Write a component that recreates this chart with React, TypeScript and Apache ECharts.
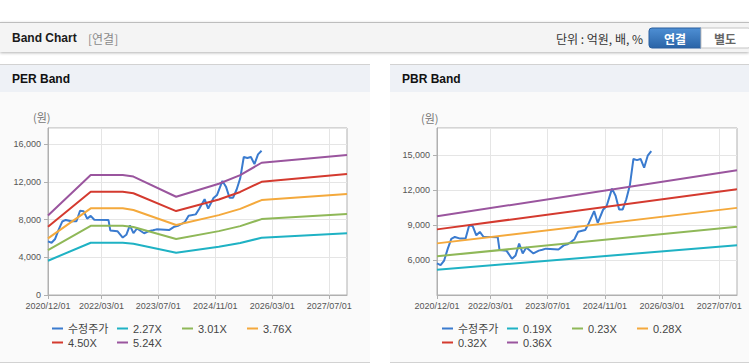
import React, { useEffect, useRef } from 'react';
import * as echarts from 'echarts';

const FONT = "'Liberation Sans', Arial, 'Noto Sans CJK KR', sans-serif";
const KFONT = "'Noto Sans CJK KR', 'Liberation Sans', sans-serif";

// x axis: half-month categories from 2020/12/01 to 2027/12/01
const xTickLabels = ['2020/12/01', '2022/03/01', '2023/07/01', '2024/11/01', '2026/03/01', '2027/07/01'];
const totalMonths = 84;
const categories: string[] = [];
for (let i = 0; i <= totalMonths * 2; i++) {
  const m = Math.floor(i / 2);
  const y = 2020 + Math.floor((11 + m) / 12);
  const mo = ((11 + m) % 12) + 1;
  categories.push(`${y}/${String(mo).padStart(2, '0')}/${i % 2 === 0 ? '01' : '16'}`);
}
const tickSet = new Set(xTickLabels);
const showTick = (idx: number) => tickSet.has(categories[idx]);

// 수정주가 (months since 2020/12)
const priceMonths = [0, 1, 2, 3, 4, 5, 6.5, 8, 9, 10, 11, 12, 13, 17, 17.5, 19.5, 21, 22, 23, 24, 25, 27, 28.5, 29.5, 30.5, 34, 35.5, 36.5, 37.5, 38.5, 39.5, 41.5, 42.5, 44, 45, 46.5, 47.5, 49, 50, 51, 52, 53, 54, 55, 56, 57, 58, 59, 60];
const priceValues = [5700, 5550, 5950, 6950, 7800, 7970, 7830, 7830, 8950, 8900, 8110, 8400, 7990, 7950, 6860, 6780, 6100, 6390, 7400, 6560, 7060, 6560, 6800, 6880, 6970, 6890, 7250, 7340, 7540, 7780, 8420, 8560, 9150, 10180, 9180, 10300, 10620, 12110, 11500, 10330, 10330, 11200, 12390, 14650, 14550, 14650, 13900, 14930, 15310];

// PER band
const perBandMonths = [0, 12, 21, 24, 36, 48, 54, 60, 84];
const per227 = [3640, 5550, 5550, 5450, 4490, 5120, 5520, 6080, 6550];
const per301 = [4770, 7350, 7350, 7220, 5940, 6780, 7310, 8060, 8600];
const per376 = [6010, 9200, 9200, 9020, 7430, 8480, 9140, 10080, 10720];
const per450 = [7250, 10960, 10960, 10800, 8910, 10140, 10940, 12020, 12840];
const per524 = [8450, 12730, 12730, 12570, 10430, 11810, 12730, 14040, 14860];

// PBR band
const pbrBandMonths = [0, 84];
const pbr019 = [5170, 7250];
const pbr023 = [6310, 8850];
const pbr028 = [7420, 10460];
const pbr032 = [8620, 12050];
const pbr036 = [9740, 13680];

const perLegend = ['수정주가', '2.27X', '3.01X', '3.76X', '4.50X', '5.24X'];
const pbrLegend = ['수정주가', '0.19X', '0.23X', '0.28X', '0.32X', '0.36X'];

const BLUE = '#3a7bcf';
const CYAN = '#1fb2c4';
const GREEN = '#8fb858';
const ORANGE = '#f4a93c';
const RED = '#d43a2f';
const PURPLE = '#9a559e';

const toPairs = (months: number[], vals: number[]) => months.map((m, i) => [m * 2, vals[i]]);

function lineSeries(name: string, color: string, data: any[], idx: number) {
  return {
    name,
    type: 'line',
    xAxisIndex: idx,
    yAxisIndex: idx,
    data,
    showSymbol: false,
    symbol: 'none',
    connectNulls: true,
    lineStyle: { width: 2, color },
    itemStyle: { color },
    emphasis: { disabled: true },
  };
}

function xAxis(gridIndex: number) {
  return {
    type: 'category',
    gridIndex,
    data: categories,
    boundaryGap: false,
    axisLine: { show: true, lineStyle: { color: '#b0b0b0' } },
    axisTick: { show: true, interval: showTick, length: 4, lineStyle: { color: '#b0b0b0' } },
    axisLabel: { interval: showTick, fontSize: 9, color: '#555', margin: 6, fontFamily: FONT },
    splitLine: { show: true, interval: showTick, lineStyle: { color: '#e5e5e5' } },
  };
}

function yAxis(gridIndex: number, min: number, max: number, interval: number, hideMin: boolean) {
  return {
    type: 'value',
    gridIndex,
    min,
    max,
    interval,
    axisLine: { show: true, lineStyle: { color: '#b0b0b0' } },
    axisTick: { show: true, length: 4, lineStyle: { color: '#b0b0b0' } },
    axisLabel: { fontSize: 9, color: '#555', margin: 7, fontFamily: FONT, showMaxLabel: false, showMinLabel: !hideMin },
    splitLine: { show: true, lineStyle: { color: '#e5e5e5' } },
  };
}

function legends(names: string[], left0: number) {
  return names.map((n, i) => ({
    data: [n],
    left: left0 + (i % 4) * 65,
    top: i < 4 ? 323 : 337,
    icon: 'rect',
    itemWidth: 11,
    itemHeight: 2,
    itemGap: 5,
    padding: 0,
    selectedMode: false,
    textStyle: { fontSize: 11, color: '#444', fontFamily: FONT },
  }));
}

function panel(x0: number, w: number, title: string, unitX: number, unitY: number) {
  return [
    { type: 'rect', z: -3, shape: { x: x0, y: 64, width: w, height: 299 }, style: { fill: '#fafafa' } },
    { type: 'rect', z: -2, shape: { x: x0, y: 64, width: w, height: 28 }, style: { fill: '#eef1f6' } },
    { type: 'line', z: -1, shape: { x1: x0, y1: 64.5, x2: x0 + w, y2: 64.5 }, style: { stroke: '#d2d2d2', lineWidth: 1 } },
    { type: 'line', z: -1, shape: { x1: x0, y1: 362.5, x2: x0 + w, y2: 362.5 }, style: { stroke: '#d2d2d2', lineWidth: 1 } },
    { type: 'text', x: x0 + 12, y: 79, style: { text: title, fontSize: 12, fontWeight: 'bold', fontFamily: FONT, fill: '#111', align: 'left', verticalAlign: 'middle' } },
    { type: 'text', x: unitX, y: unitY, style: { text: '(원)', fontSize: 11, fontFamily: KFONT, fill: '#777', align: 'left', verticalAlign: 'middle' } },
  ];
}

export default function App() {
  const ref = useRef<HTMLDivElement>(null);
  useEffect(() => {
    if (!ref.current) return;
    const chart = echarts.init(ref.current, undefined, { renderer: 'svg' });
    const option: any = {
      animation: false,
      backgroundColor: '#ffffff',
      graphic: [
        { type: 'rect', z: -1, shape: { x: 0, y: 22, width: 749, height: 30 }, style: { fill: '#f4f4f4', shadowBlur: 3, shadowOffsetY: 1, shadowColor: 'rgba(0,0,0,0.3)' } },
        { type: 'line', shape: { x1: 0, y1: 22.5, x2: 749, y2: 22.5 }, style: { stroke: '#bdbdbd', lineWidth: 1 } },
        { type: 'text', x: 12, y: 38, style: { text: 'Band Chart', fontSize: 12, fontWeight: 'bold', fontFamily: FONT, fill: '#1a1a1a', align: 'left', verticalAlign: 'middle' } },
        { type: 'text', x: 88, y: 38, style: { text: '[연결]', fontSize: 12, fontFamily: KFONT, fill: '#8a8a8a', align: 'left', verticalAlign: 'middle' } },
        { type: 'text', x: 643, y: 38, style: { text: '단위 : 억원, 배, %', fontSize: 12, fontFamily: KFONT, fill: '#333', align: 'right', verticalAlign: 'middle' } },
        { type: 'rect', shape: { x: 649, y: 28, width: 52, height: 20, r: [3, 0, 0, 3] }, style: { fill: { type: 'linear', x: 0, y: 0, x2: 0, y2: 1, colorStops: [{ offset: 0, color: '#4e8fd4' }, { offset: 1, color: '#2a64a7' }] }, stroke: '#2a5f9e', lineWidth: 1 } },
        { type: 'text', x: 675, y: 38, style: { text: '연결', fontSize: 12, fontWeight: 'bold', fontFamily: KFONT, fill: '#ffffff', align: 'center', verticalAlign: 'middle' } },
        { type: 'rect', shape: { x: 701, y: 28, width: 50, height: 20, r: [0, 3, 3, 0] }, style: { fill: '#ffffff', stroke: '#c4c4c4', lineWidth: 1 } },
        { type: 'text', x: 725, y: 38, style: { text: '별도', fontSize: 12, fontWeight: 'bold', fontFamily: KFONT, fill: '#666', align: 'center', verticalAlign: 'middle' } },
        ...panel(0, 370, 'PER Band', 33, 117),
        ...panel(390, 359, 'PBR Band', 421, 118),
      ],
      grid: [
        { left: 48, top: 128, width: 299, height: 167, show: true, borderColor: '#b0b0b0', borderWidth: 1, backgroundColor: '#ffffff' },
        { left: 437, top: 128, width: 300, height: 167, show: true, borderColor: '#b0b0b0', borderWidth: 1, backgroundColor: '#ffffff' },
      ],
      xAxis: [xAxis(0), xAxis(1)],
      yAxis: [yAxis(0, 0, 17730, 4000, false), yAxis(1, 3000, 17300, 3000, true)],
      legend: [...legends(perLegend, 52), ...legends(pbrLegend, 442)],
      series: [
        lineSeries('수정주가', BLUE, toPairs(priceMonths, priceValues), 0),
        lineSeries('2.27X', CYAN, toPairs(perBandMonths, per227), 0),
        lineSeries('3.01X', GREEN, toPairs(perBandMonths, per301), 0),
        lineSeries('3.76X', ORANGE, toPairs(perBandMonths, per376), 0),
        lineSeries('4.50X', RED, toPairs(perBandMonths, per450), 0),
        lineSeries('5.24X', PURPLE, toPairs(perBandMonths, per524), 0),
        lineSeries('수정주가', BLUE, toPairs(priceMonths, priceValues), 1),
        lineSeries('0.19X', CYAN, toPairs(pbrBandMonths, pbr019), 1),
        lineSeries('0.23X', GREEN, toPairs(pbrBandMonths, pbr023), 1),
        lineSeries('0.28X', ORANGE, toPairs(pbrBandMonths, pbr028), 1),
        lineSeries('0.32X', RED, toPairs(pbrBandMonths, pbr032), 1),
        lineSeries('0.36X', PURPLE, toPairs(pbrBandMonths, pbr036), 1),
      ],
    };
    chart.setOption(option);
    return () => chart.dispose();
  }, []);
  return <div ref={ref} style={{ position: 'absolute', left: 0, top: 0, width: 749, height: 364 }} />;
}
